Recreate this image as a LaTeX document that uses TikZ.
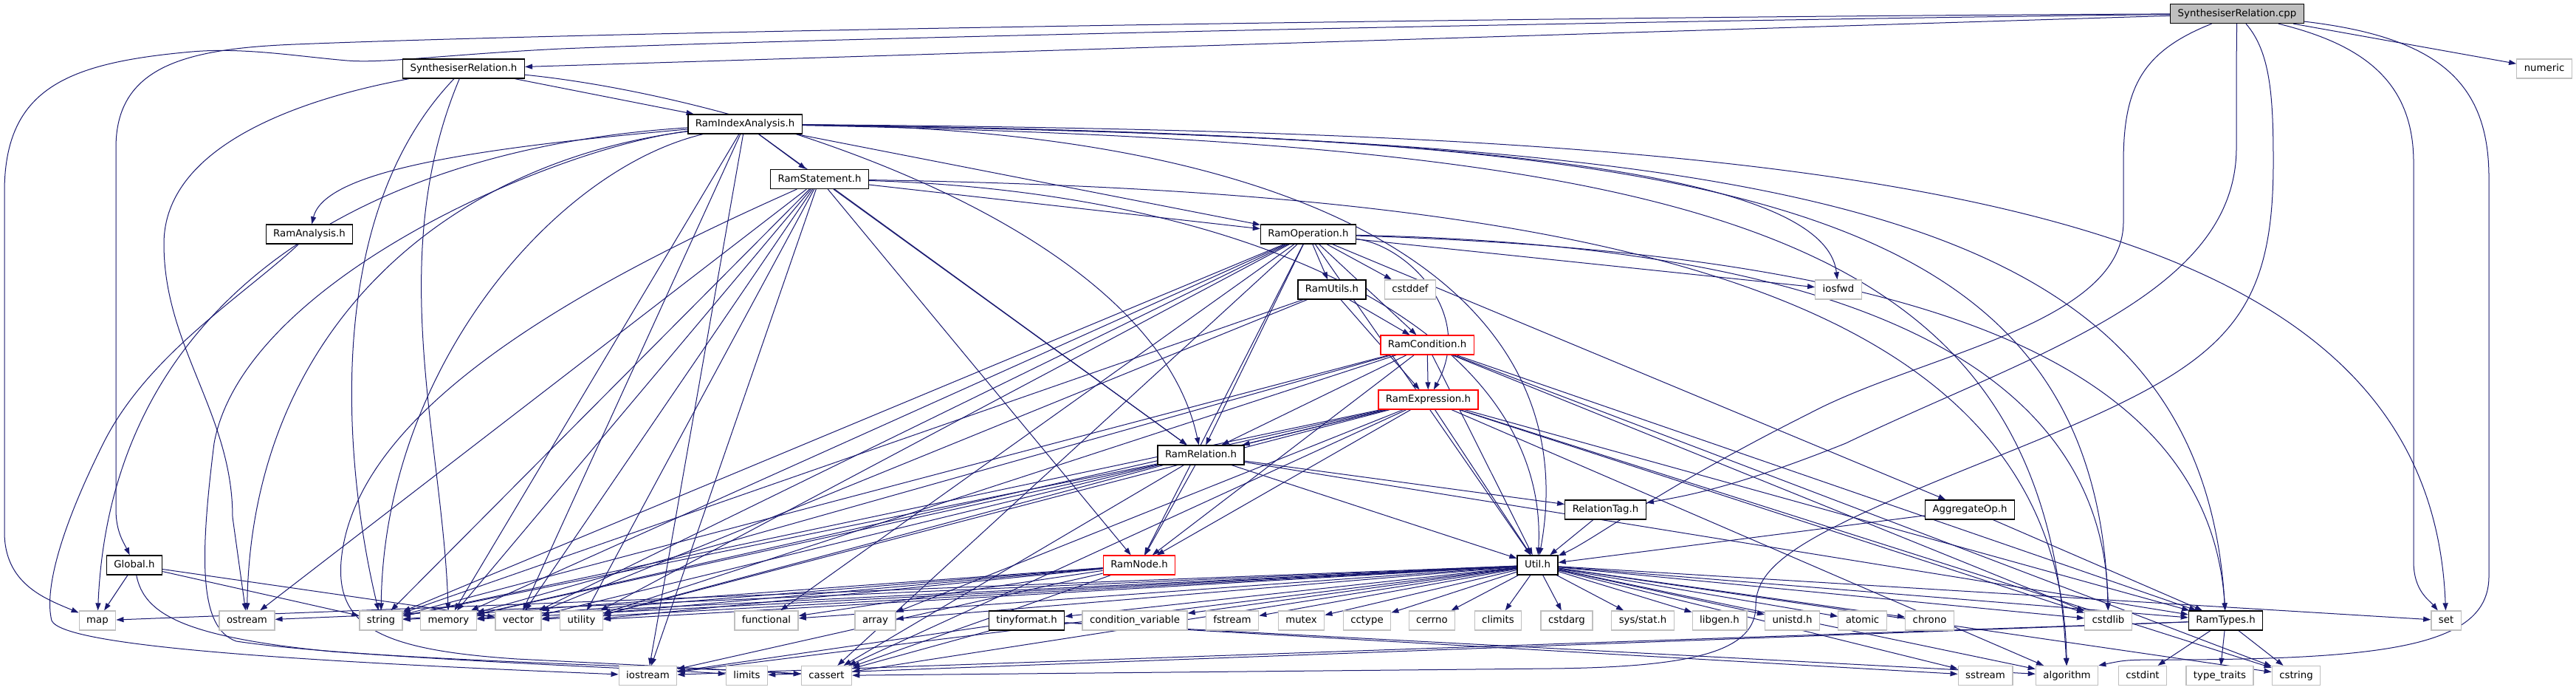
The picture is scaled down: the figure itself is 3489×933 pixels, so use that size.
\documentclass[tikz,border=0pt]{standalone}
\usepackage{fontspec}
\setmainfont{DejaVu Sans}
\usepackage{xcolor}
\usetikzlibrary{arrows.meta,backgrounds}
\definecolor{dxblue}{RGB}{25,25,112}
\definecolor{dxgray}{RGB}{191,191,191}

\begin{document}
\begin{tikzpicture}[
    x=0.25pt, y=-0.25pt,
    hdr/.style={draw=black, fill=white, line width=0.33pt, rectangle, minimum height=6.5pt, inner xsep=2.5pt, inner ysep=0pt, text height=2.5pt, text depth=0.75pt, font=\fontsize{3.33}{4}\selectfont},
    sysbox/.style={hdr, draw=dxgray},
    cutbox/.style={hdr, draw=red},
    rootbox/.style={hdr, fill=dxgray},
    dep/.style={draw=dxblue, line width=0.25pt, -{Triangle[length=2.5pt, width=1.75pt]}}
]
    \useasboundingbox (0,0) rectangle (3489,933);

    \node[rootbox] (cpp) at (3030,18.5) {SynthesiserRelation.cpp};
    \node[sysbox] (numeric) at (3446,93) {numeric};
    \node[hdr] (srh) at (628,93) {SynthesiserRelation.h};
    \node[hdr] (ria) at (1009,168) {RamIndexAnalysis.h};
    \node[hdr] (rst) at (1110,242.5) {RamStatement.h};
    \node[hdr] (ran) at (419,317) {RamAnalysis.h};
    \node[hdr] (rop) at (1772,317) {RamOperation.h};
    \node[hdr] (rut) at (1804,392) {RamUtils.h};
    \node[sysbox] (cstddef) at (1910,392) {cstddef};
    \node[sysbox] (iosfwd) at (2490,392) {iosfwd};
    \node[cutbox] (rco) at (1933,467) {RamCondition.h};
    \node[cutbox] (rex) at (1934.5,541) {RamExpression.h};
    \node[hdr] (rre) at (1626.5,616) {RamRelation.h};
    \node[hdr] (rtag) at (2174.5,690) {RelationTag.h};
    \node[hdr] (aggop) at (2668,690) {AggregateOp.h};
    \node[hdr] (global) at (182,765) {Global.h};
    \node[cutbox] (rno) at (1543,765) {RamNode.h};
    \node[hdr] (util) at (2082.5,765) {Util.h};

    \node[sysbox] (map) at (132,840) {map};
    \node[sysbox] (ostream) at (334.5,840) {ostream};
    \node[sysbox] (string) at (516,840) {string};
    \node[sysbox] (memory) at (607.5,840) {memory};
    \node[sysbox] (vector) at (702,840) {vector};
    \node[sysbox] (utility) at (787.5,840) {utility};
    \node[sysbox] (functional) at (1038,840) {functional};
    \node[sysbox] (array) at (1185.5,840) {array};
    \node[hdr] (tinyformat) at (1390.5,840) {tinyformat.h};
    \node[sysbox] (condvar) at (1537,840) {condition\_variable};
    \node[sysbox] (fstream) at (1669,840) {fstream};
    \node[sysbox] (mutex) at (1762.5,840) {mutex};
    \node[sysbox] (cctype) at (1851.5,840) {cctype};
    \node[sysbox] (cerrno) at (1939.5,840) {cerrno};
    \node[sysbox] (climits) at (2029,840) {climits};
    \node[sysbox] (cstdarg) at (2122,840) {cstdarg};
    \node[sysbox] (sysstat) at (2225,840) {sys/stat.h};
    \node[sysbox] (libgen) at (2329,840) {libgen.h};
    \node[sysbox] (unistd) at (2427.5,840) {unistd.h};
    \node[sysbox] (atomic) at (2522.5,840) {atomic};
    \node[sysbox] (chrono) at (2613.5,840) {chrono};
    \node[sysbox] (cstdlib) at (2855.5,840) {cstdlib};
    \node[hdr] (ramtypes) at (3014.5,840) {RamTypes.h};
    \node[sysbox] (set) at (3313,840) {set};

    \node[sysbox] (iostream) at (877.5,914.5) {iostream};
    \node[sysbox] (limits) at (1011.5,914.5) {limits};
    \node[sysbox] (cassert) at (1119.5,914.5) {cassert};
    \node[sysbox] (sstream) at (2689,914.5) {sstream};
    \node[sysbox] (algorithm) at (2799.5,914.5) {algorithm};
    \node[sysbox] (cstdint) at (2902,914.5) {cstdint};
    \node[sysbox] (typetraits) at (3006.5,914.5) {type\_traits};
    \node[sysbox] (cstring) at (3110,914.5) {cstring};

    \begin{pgfonlayer}{background}
    \fill[white] (0,0) rectangle (3489,933);

    \draw[dep] (cpp) .. controls (2200,28) and (1100,52) .. (760,66) .. controls (600,74) and (520,86) .. (470,82) .. controls (400,76) and (330,64) .. (260,70) .. controls (90,85) and (6,120) .. (6,260) -- (6,720) .. controls (6,790) and (60,810) .. (map);
    \draw[dep] (cpp) .. controls (2200,22) and (900,40) .. (400,60) .. controls (250,66) and (157,90) .. (157,200) -- (157,690) .. controls (157,720) and (168,735) .. (global);
    \draw[dep] (cpp) .. controls (3029,60) and (3029,120) .. (3029,200) .. controls (3029,400) and (2750,480) .. (2500,600) .. controls (2350,660) and (2280,672) .. (rtag);
    \draw[dep] (cpp) .. controls (2900,70) and (2876,120) .. (2876,220) -- (2876,300) .. controls (2876,440) and (2600,480) .. (2450,560) .. controls (2250,660) and (2160,730) .. (util);
    \draw[dep] (cpp) .. controls (3075,70) and (3079,130) .. (3079,220) .. controls (3079,450) and (3000,500) .. (2700,620) .. controls (2450,720) and (2378,760) .. (2378,820) .. controls (2378,880) and (2300,903) .. (2100,905) -- (cassert);
    \draw[dep] (cpp) .. controls (3200,60) and (3269,110) .. (3269,220) -- (3269,760) .. controls (3269,800) and (3290,812) .. (set);
    \draw[dep] (cpp) .. controls (3300,50) and (3371,110) .. (3371,240) -- (3371,780) .. controls (3371,870) and (3250,892) .. (2950,893) .. controls (2880,893) .. (algorithm.north east);
    \path (cpp) edge[dep] (srh) edge[dep] (numeric);

    \draw[dep] (srh) .. controls (400,135) and (222,200) .. (222,330) .. controls (222,470) and (315,560) .. (315,700) -- (ostream);
    \draw[dep] (srh) .. controls (1000,130) and (1560,300) .. (rre);
    \draw[dep] (srh) .. controls (430,300) and (470,650) .. (string);
    \draw[dep] (srh) .. controls (520,350) and (600,600) .. (memory);
    \path (srh) edge[dep] (ria);

    \draw[dep] (ria) .. controls (750,200) and (330,380) .. (290,600) .. controls (270,760) and (270,850) .. (320,868) .. controls (500,895) and (950,903) .. (cassert);
    \draw[dep] (ria) .. controls (650,200) and (440,230) .. (ran);
    \draw[dep] (ria) .. controls (500,200) and (150,400) .. (map);
    \draw[dep] (ria) .. controls (600,220) and (340,450) .. (ostream);
    \draw[dep] (ria) .. controls (750,230) and (520,500) .. (string);
    \draw[dep] (ria) .. controls (1900,180) and (2470,220) .. (iosfwd);
    \draw[dep] (ria) .. controls (1800,175) and (2150,400) .. (util);
    \draw[dep] (ria) .. controls (2300,185) and (2840,250) .. (cstdlib);
    \draw[dep] (ria) .. controls (2400,190) and (2980,260) .. (ramtypes);
    \draw[dep] (ria) .. controls (2500,180) and (3290,250) .. (set);
    \draw[dep] (ria) .. controls (2300,195) and (2770,300) .. (algorithm);
    \path (ria) edge[dep] (rst)
                edge[dep] (rop)
                edge[dep] (rre)
                edge[dep] (memory)
                edge[dep] (vector)
                edge[dep] (iostream);

    \draw[dep] (rst) .. controls (800,380) and (480,550) .. (462,760) .. controls (455,850) and (520,880) .. (700,892) .. controls (900,902) .. (cassert);
    \draw[dep] (rst) .. controls (1700,260) and (2100,450) .. (util);
    \draw[dep] (rst) .. controls (2200,260) and (2790,400) .. (algorithm);
    \path (rst) edge[dep] (rop)
                edge[dep] (rre)
                edge[dep] (rno)
                edge[dep] (string)
                edge[dep] (memory)
                edge[dep] (vector)
                edge[dep] (utility)
                edge[dep] (ostream)
                edge[dep] (iostream);

    \draw[dep] (ran) .. controls (330,400) and (200,480) .. (140,600) .. controls (80,720) and (60,800) .. (70,840) .. controls (85,875) and (400,895) .. (iostream);

    \draw[dep] (rop) .. controls (1900,330) and (2000,420) .. (rex);
    \draw[dep] (rop) .. controls (2500,340) and (2990,450) .. (ramtypes);
    \draw[dep] (rop) .. controls (2400,330) and (2850,450) .. (cstdlib);
    \path (rop) edge[dep] (rut)
                edge[dep] (cstddef)
                edge[dep] (rco)
                edge[dep] (rre)
                edge[dep] (rno)
                edge[dep] (aggop)
                edge[dep] (iosfwd)
                edge[dep] (util)
                edge[dep] (string)
                edge[dep] (memory)
                edge[dep] (vector)
                edge[dep] (utility)
                edge[dep] (functional)
                edge[dep] (cassert);

    \path (rut) edge[dep] (rco) edge[dep] (rex) edge[dep] (string) edge[dep] (vector);

    \path (rco) edge[dep] (rex) edge[dep] (rre) edge[dep] (rno) edge[dep] (util)
                edge[dep] (ramtypes) edge[dep] (cstdlib) edge[dep] (string)
                edge[dep] (memory) edge[dep] (utility) edge[dep] (cstring);

    \path (rex) edge[dep] (rre) edge[dep] (rno) edge[dep] (util) edge[dep] (ramtypes)
                edge[dep] (cstdlib) edge[dep] (string) edge[dep] (memory) edge[dep] (vector)
                edge[dep] (utility) edge[dep] (array) edge[dep] (cassert)
                edge[dep] (algorithm) edge[dep] (cstring);

    \path (rre) edge[dep] (rtag) edge[dep] (util) edge[dep] (rno) edge[dep] (ramtypes)
                edge[dep] (string) edge[dep] (memory) edge[dep] (utility) edge[dep] (cassert);

    \path (rtag) edge[dep] (util);
    \path (aggop) edge[dep] (util) edge[dep] (ramtypes);

    \path (rno) edge[dep] (string) edge[dep] (memory) edge[dep] (vector) edge[dep] (utility)
                edge[dep] (functional) edge[dep] (iostream) edge[dep] (cassert);

    \draw[dep] (global) .. controls (195,830) and (245,862) .. (450,882) .. controls (700,900) and (900,906) .. (limits);
    \path (global) edge[dep] (map) edge[dep] (string) edge[dep] (vector);

    \path (tinyformat) edge[dep] (iostream) edge[dep] (cassert) edge[dep] (sstream) edge[dep] (algorithm);

    \path (ramtypes) edge[dep] (cstdint) edge[dep] (typetraits) edge[dep] (cstring)
                     edge[dep] (limits) edge[dep] (iostream);

    \path (util) edge[dep] (ramtypes) edge[dep] (tinyformat) edge[dep] (algorithm)
                 edge[dep] (array) edge[dep] (atomic) edge[dep] (cassert) edge[dep] (cctype)
                 edge[dep] (cerrno) edge[dep] (chrono) edge[dep] (climits) edge[dep] (condvar)
                 edge[dep] (cstdarg) edge[dep] (cstdlib) edge[dep] (cstring) edge[dep] (fstream)
                 edge[dep] (functional) edge[dep] (iostream) edge[dep] (map) edge[dep] (memory)
                 edge[dep] (mutex) edge[dep] (set) edge[dep] (sstream) edge[dep] (string)
                 edge[dep] (sysstat) edge[dep] (utility) edge[dep] (vector) edge[dep] (libgen)
                 edge[dep] (unistd) edge[dep] (ostream);
    \end{pgfonlayer}
\end{tikzpicture}
\end{document}
